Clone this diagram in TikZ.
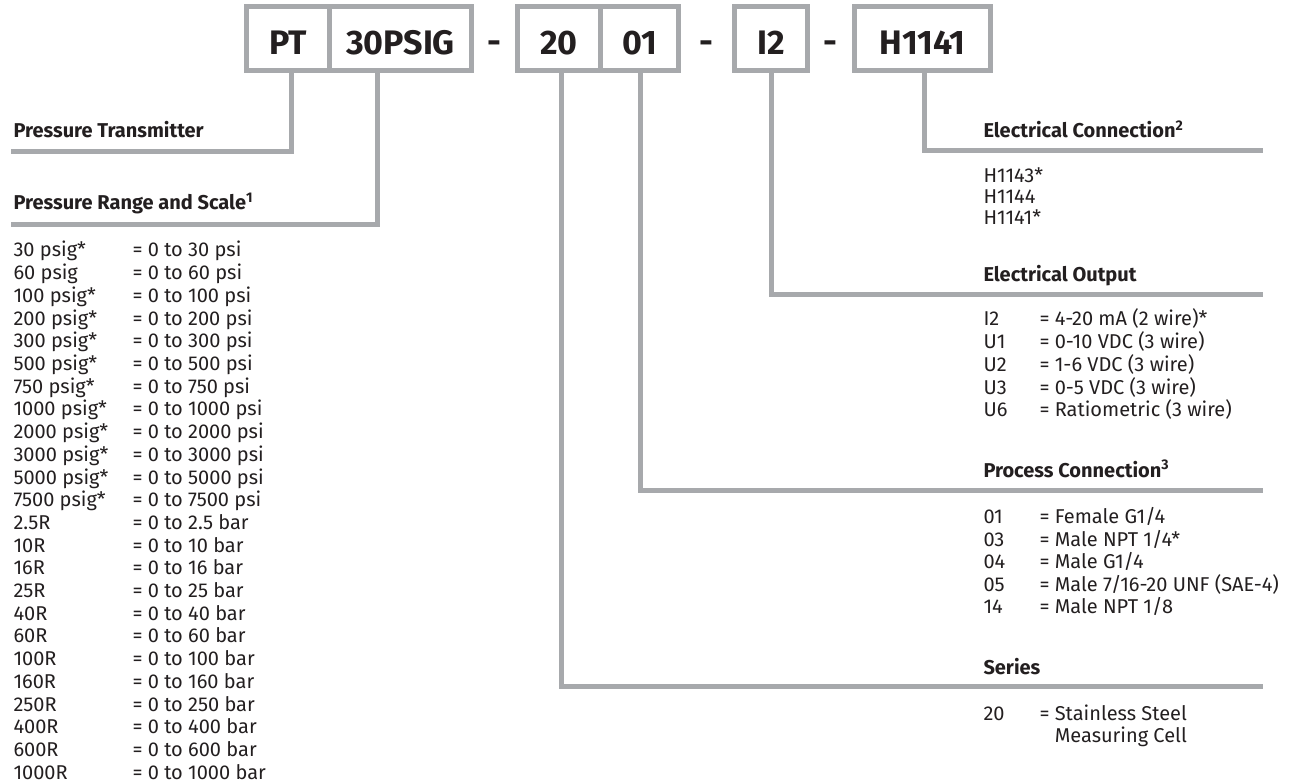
\documentclass[tikz,border=0pt]{standalone}
\usepackage{fontspec}
\setmainfont{Fira Sans}
\definecolor{rulegray}{RGB}{167,169,172}
\definecolor{ink}{RGB}{35,31,32}
\begin{document}
\begin{tikzpicture}[x=1pt, y=-1pt, line width=5pt,
  every node/.style={text=ink, inner sep=0pt},
  codebox/.style={draw=rulegray, minimum height=64.5pt, text height=30.9pt, text depth=0pt, font=\fontsize{34}{40}\selectfont\bfseries},
  sep/.style={anchor=base, font=\fontsize{34}{40}\selectfont\bfseries},
  conn/.style={draw=rulegray, line join=miter},
  head/.style={anchor=base west, font=\fontsize{20}{24}\selectfont\bfseries},
  item/.style={anchor=base west, font=\fontsize{20}{22.7}\selectfont}]
  \useasboundingbox (0,0) rectangle (1292,783);
  % order code: PT 30PSIG - 20 01 - I2 - H1141
  \node[codebox, minimum width=83pt] (pt) at (288,38.75) {PT};
  \node[codebox, minimum width=142pt] (psig) at (400.5,38.75) {30PSIG};
  \node[sep] (d1) at (494,54) {-};
  \node[codebox, minimum width=83pt] (ser) at (559,38.75) {20};
  \node[codebox, minimum width=78pt] (proc) at (639.5,38.75) {01};
  \node[sep] (d2) at (706,54) {-};
  \node[codebox, minimum width=73pt] (out) at (771,38.75) {I2};
  \node[sep] (d3) at (830.5,54) {-};
  \node[codebox, minimum width=136pt] (elec) at (922.5,38.75) {H1141};
  % line ends
  \coordinate (eTrans) at (11,151.5); \coordinate (eRange) at (11,224.5);
  \coordinate (eElec) at (1263,151); \coordinate (eOut) at (1263,294.5);
  \coordinate (eProc) at (1263,490.5); \coordinate (eSeries) at (1263,686.5);
  \draw[conn] ([xshift=3.5pt]pt.south) |- (eTrans);
  \draw[conn] ([xshift=-23pt]psig.south) |- (eRange);
  \draw[conn] ([xshift=2.5pt]ser.south) |- (eSeries);
  \draw[conn] ([xshift=1pt]proc.south) |- (eProc);
  \draw[conn] ([xshift=0.5pt]out.south) |- (eOut);
  \draw[conn] ([xshift=2pt]elec.south) |- (eElec);
  % left side
  \node[head] (hTrans) at (11,137.5) {Pressure Transmitter};
  \node[head] (hRange) at (11,210) {Pressure Range and Scale\textsuperscript{1}};
  \foreach \c/\v [count=\i from 0] in {30 psig*/= 0 to 30 psi, 60 psig/= 0 to 60 psi, 100 psig*/= 0 to 100 psi, 200 psig*/= 0 to 200 psi, 300 psig*/= 0 to 300 psi, 500 psig*/= 0 to 500 psi, 750 psig*/= 0 to 750 psi, 1000 psig*/= 0 to 1000 psi, 2000 psig*/= 0 to 2000 psi, 3000 psig*/= 0 to 3000 psi, 5000 psig*/= 0 to 5000 psi, 7500 psig*/= 0 to 7500 psi, 2.5R/= 0 to 2.5 bar, 10R/= 0 to 10 bar, 16R/= 0 to 16 bar, 25R/= 0 to 25 bar, 40R/= 0 to 40 bar, 60R/= 0 to 60 bar, 100R/= 0 to 100 bar, 160R/= 0 to 160 bar, 250R/= 0 to 250 bar, 400R/= 0 to 400 bar, 600R/= 0 to 600 bar, 1000R/= 0 to 1000 bar}
    {\node[item] (rc\i) at (11,257+22.7*\i) {\c}; \node[item] (rv\i) at (130,257+22.7*\i) {\v};}
  % right side
  \node[head] (hElec) at (981,138) {Electrical Connection\textsuperscript{2}};
  \foreach \c [count=\i from 0] in {H1143*, H1144, H1141*} \node[item] (hc\i) at (981,183+21*\i) {\c};
  \node[head] (hOut) at (981,282) {Electrical Output};
  \foreach \c/\v [count=\i from 0] in {I2/= 4-20 mA (2 wire)*, U1/= 0-10 VDC (3 wire), U2/= 1-6 VDC (3 wire), U3/= 0-5 VDC (3 wire), U6/= Ratiometric (3 wire)}
    {\node[item] (oc\i) at (981,326+22.7*\i) {\c}; \node[item] (ov\i) at (1037,326+22.7*\i) {\v};}
  \node[head] (hProc) at (981,477.5) {Process Connection\textsuperscript{3}};
  \foreach \c/\v [count=\i from 0] in {01/{= Female G1/4}, 03/{= Male NPT 1/4*}, 04/{= Male G1/4}, 05/{= Male 7/16-20 UNF (SAE-4)}, 14/{= Male NPT 1/8}}
    {\node[item] (pc\i) at (981,523.5+22.6*\i) {\c}; \node[item] (pv\i) at (1037,523.5+22.6*\i) {\v};}
  \node[head] (hSeries) at (981,674) {Series};
  \node[item] (sc) at (981,720) {20};
  \node[item] (sv1) at (1037,720) {= Stainless Steel};
  \node[item] (sv2) at (1037,742.7) {\hphantom{= }Measuring Cell};
\end{tikzpicture}
\end{document}
